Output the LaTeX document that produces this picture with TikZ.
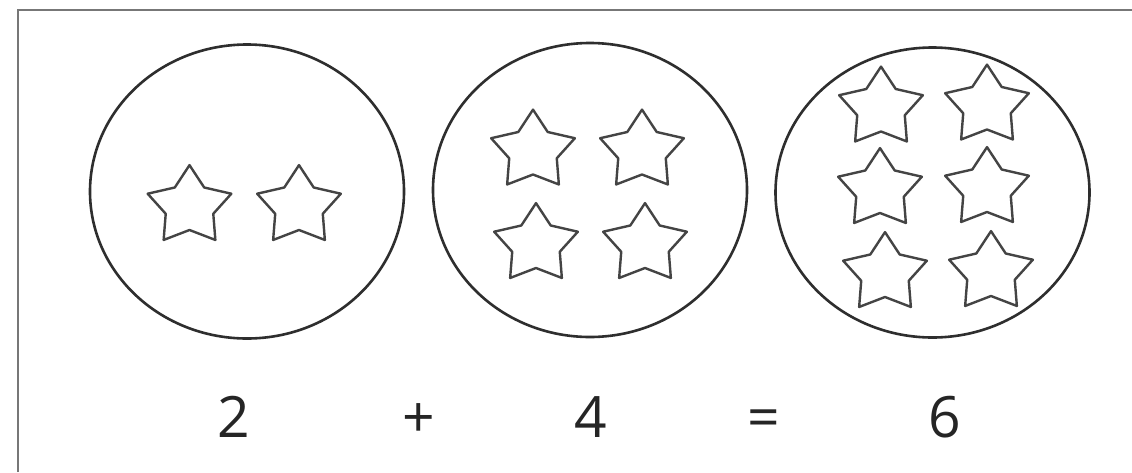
\documentclass[tikz,border=0pt]{standalone}
\usepackage{fontspec}
\setmainfont{Open Sans}
\usepackage{tikz}
\usetikzlibrary{shapes.geometric}

\definecolor{ringgray}{HTML}{2E2E2E}
\definecolor{stargray}{HTML}{444444}
\definecolor{framegray}{HTML}{777777}
\definecolor{numgray}{HTML}{252525}

\begin{document}
\begin{tikzpicture}[x=1pt, y=-1pt]
    \tikzset{
        set ring/.style={
                ellipse, draw=ringgray, line width=2.6pt,
                minimum width=314pt, minimum height=294pt, inner sep=0pt
            },
        star item/.pic={
                % outer tips at 44, inner corners at 25 (angles measured downwards)
                \draw[draw=stargray, line width=2.4pt, line join=round]
                    (-90:44) -- (-54:25) -- (-18:44) -- (18:25) -- (54:44)
                    -- (90:25) -- (126:44) -- (162:25) -- (198:44)
                    -- (234:25) -- cycle;
            },
        sum sign/.style={
                font=\fontsize{57}{60}\selectfont, text=numgray,
                anchor=base, inner sep=0pt
            }
    }
    \useasboundingbox[fill=white] (0,0) rectangle (1132,472);

    % frame
    \draw[framegray, line width=2pt] (18,472) -- (18,10) -- (1132,10);

    % the three sets
    \node[set ring] (set1) at (247,191.5) {};
    \node[set ring] (set2) at (590,190) {};
    \node[set ring, minimum height=290pt] (set3) at (932.5,192.5) {};

    % stars in the first set
    \pic[yscale=0.94] at (189.5,206.5) {star item};
    \pic[yscale=0.94] at (299,206.5) {star item};

    % stars in the second set
    \pic[yscale=0.94] at (533,151) {star item};
    \pic[yscale=0.94] at (642,151) {star item};
    \pic[yscale=0.94] at (536,244.5) {star item};
    \pic[yscale=0.94] at (645,244.5) {star item};

    % stars in the third set
    \pic[yscale=0.94] at (881,108) {star item};
    \pic[yscale=0.94] at (987,106) {star item};
    \pic[yscale=0.94] at (880,189.5) {star item};
    \pic[yscale=0.94] at (987,188.5) {star item};
    \pic[yscale=0.94] at (885,273.5) {star item};
    \pic[yscale=0.94] at (991,272.5) {star item};

    % the sum
    \node[sum sign] (two) at (234,437) {2};
    \node[sum sign] (plus) at (419,437) {+};
    \node[sum sign] (four) at (591,437) {4};
    \node[sum sign] (equals) at (764,437) {=};
    \node[sum sign] (six) at (945,437) {6};
\end{tikzpicture}
\end{document}
